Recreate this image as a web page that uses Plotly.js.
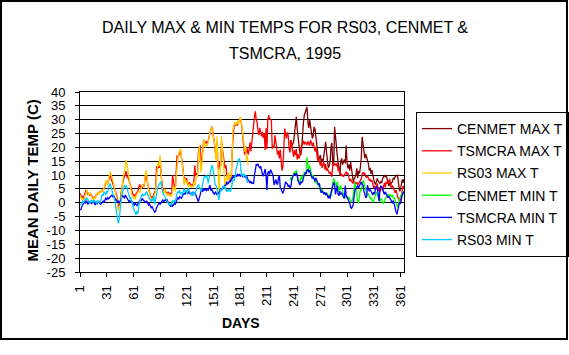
<!DOCTYPE html>
<html>
<head>
<meta charset="utf-8">
<script src="https://cdn.plot.ly/plotly-3.0.1.min.js"></script>
<style>
  html, body { margin: 0; padding: 0; background: #fff; }
  #wrap { position: relative; width: 569px; height: 355px; overflow: hidden; }
  #chart { width: 569px; height: 355px; }
  #frame { position: absolute; left: 0; top: 0; width: 564px; height: 336px; border: 2px solid #000; pointer-events: none; }
</style>
</head>
<body>
<div id="wrap"><div id="chart"></div><div id="frame"></div></div>
<script>
// ---- Data ----
const seriesNames = ["CENMET MAX T", "TSMCRA MAX T", "RS03 MAX T", "CENMET MIN T", "TSMCRA MIN T", "RS03 MIN T"];
const xTickVals = [1, 31, 61, 91, 121, 151, 181, 211, 241, 271, 301, 331, 361];
const yTickVals = [-25, -20, -15, -10, -5, 0, 5, 10, 15, 20, 25, 30, 35, 40];
const yTickText = ["-25", "-20", "-15", "-10", "-5", "0", "5", "10", "15", "20", "25", "30", "35", "40"];

const rs03Start = 1;      // RS03 record: days 1-190
const tsmcraStart = 1;    // TSMCRA record: days 1-365
const cenmetStart = 237;  // CENMET record: days 237-365

const rs03Max = [
  2.8, 2.0, 1.2, 1.5, 1.0, 2.0, 3.1, 3.8, 4.6, 3.5,
  2.8, 3.6, 3.0, 2.2, 1.5, 1.0, 1.8, 1.4, 2.6, 3.2,
  3.9, 3.0, 3.6, 4.2, 4.0, 4.8, 4.3, 5.2, 6.5, 8.2,
  7.0, 6.2, 8.5, 9.8, 11.2, 10.0, 9.0, 8.3, 6.4, 5.0,
  4.0, 2.6, 0.5, -3.2, -1.5, -1.8, 2.5, 6.4, 8.0, 10.0,
  12.0, 13.8, 15.4, 13.5, 11.0, 9.4, 6.5, 5.0, 3.2, 2.6,
  1.6, 2.2, 1.2, 2.8, 3.0, 3.6, 4.2, 3.8, 5.0, 5.4,
  6.3, 5.8, 6.2, 8.5, 11.8, 10.2, 6.5, 4.5, 3.6, 1.6,
  1.0, 1.5, 1.2, 2.6, 3.0, 4.5, 11.5, 13.0, 14.8, 13.2,
  17.2, 11.0, 6.0, 4.2, 3.0, 5.0, 3.8, 3.2, 2.6, 3.4,
  2.8, 2.2, 3.0, 2.4, 4.5, 6.0, 5.2, 4.0, 9.0, 14.5,
  16.0, 17.8, 19.0, 19.6, 16.0, 14.0, 11.0, 6.5, 8.8, 7.0,
  8.2, 6.4, 6.0, 6.8, 5.6, 6.2, 5.5, 6.0, 7.5, 6.2,
  9.0, 10.0, 9.4, 15.0, 20.8, 15.0, 11.0, 14.5, 19.0, 23.0,
  21.5, 20.0, 21.0, 20.6, 22.0, 24.0, 25.6, 26.6, 27.4, 26.0,
  23.0, 22.0, 19.0, 15.0, 24.0, 11.0, 2.8, 9.5, 14.0, 24.0,
  20.5, 15.0, 10.0, 5.0, 8.5, 10.0, 8.0, 11.0, 9.0, 8.0,
  10.5, 20.0, 26.8, 28.0, 29.2, 28.2, 29.0, 28.4, 29.8, 29.0,
  31.0, 30.0, 25.5, 24.4, 22.0, 18.5, 20.5, 15.0, 17.0, 13.5
];

const rs03Min = [
  -0.8, -0.5, 0.2, 0.6, 0.0, 0.8, 1.5, 1.2, 1.8, 1.0,
  0.2, -0.2, 0.6, 0.9, 0.0, 0.4, 1.0, 0.2, 0.5, -0.3,
  0.8, 0.3, 0.0, 0.6, 1.8, 3.0, 2.6, 4.0, 3.5, 2.8,
  4.2, 3.6, 5.6, 6.4, 7.0, 5.5, 4.0, 3.0, 2.2, 1.0,
  -0.8, -2.6, -4.5, -7.4, -6.0, -2.0, 0.0, 2.8, 4.0, 5.2,
  6.4, 5.8, 6.2, 5.0, 4.0, 3.0, 1.5, 2.0, 0.5, -0.6,
  -1.5, -2.8, -3.5, -4.4, -3.0, -4.0, -1.0, 0.4, 1.2, 2.4,
  3.2, 2.6, 3.0, 2.8, 3.6, 4.0, 3.2, 2.0, 1.5, 1.0,
  0.4, 1.5, 0.6, 2.6, -0.6, 1.2, 3.8, 5.0, 6.2, 6.6,
  7.2, 7.6, 5.0, 3.6, 2.8, 2.5, 1.6, 0.8, 0.4, 0.0,
  -0.8, -0.4, -1.0, -0.2, 0.8, 0.0, 1.0, 0.2, 2.6, 3.4,
  4.0, 3.6, 4.5, 3.0, 3.8, 2.8, 4.0, 5.2, 3.8, 4.5,
  3.2, 4.8, 5.0, 3.6, 3.4, 2.8, 3.6, 2.6, 3.8, 3.0,
  4.2, 5.0, 6.0, 6.4, 5.8, 5.0, 4.2, 5.5, 7.5, 8.8,
  9.5, 9.0, 10.0, 9.2, 7.0, 8.5, 10.5, 12.0, 13.6, 13.0,
  10.0, 9.0, 6.5, 6.2, 4.0, 2.8, 1.0, 3.0, 5.0, 4.2,
  5.5, 6.2, 5.2, 6.0, 4.5, 4.0, 5.0, 4.2, 4.8, 4.0,
  5.2, 7.5, 8.6, 8.0, 9.0, 11.5, 13.0, 14.2, 15.5, 16.0,
  14.8, 11.0, 9.6, 10.5, 9.5, 10.2, 9.8, 8.6, 7.4, 7.6
];

const tsmcraMax = [
  3.4, 2.6, 1.8, 2.2, 1.4, 3.0, 4.2, 4.6, 3.8, 3.0,
  3.4, 2.6, 3.2, 2.4, 1.8, 1.4, 2.0, 1.6, 2.8, 3.0,
  3.6, 3.4, 3.8, 4.0, 4.4, 4.2, 4.6, 5.0, 6.0, 7.6,
  7.4, 6.8, 8.0, 9.0, 10.4, 8.6, 7.6, 7.0, 6.0, 5.4,
  4.4, 3.0, 1.2, -1.8, -0.6, -0.8, 3.2, 6.0, 7.2, 8.6,
  9.4, 10.6, 11.4, 9.0, 9.4, 8.2, 7.0, 6.0, 4.0, 3.6,
  2.4, 3.0, 2.0, 3.4, 3.6, 4.2, 5.4, 6.6, 5.6, 6.0,
  5.2, 6.6, 5.8, 8.0, 10.6, 9.0, 6.0, 5.0, 4.0, 2.4,
  1.6, 2.2, 1.8, 3.2, 3.8, 5.6, 13.2, 12.0, 13.6, 12.6,
  16.0, 10.4, 6.8, 5.0, 3.6, 5.4, 4.2, 3.8, 3.0, 4.0,
  3.4, 2.8, 3.6, 3.0, 10.0, 6.6, 5.8, 4.8, 14.0, 16.8,
  16.6, 17.0, 18.6, 19.0, 16.4, 14.2, 11.6, 7.4, 9.2, 7.6,
  8.8, 7.0, 6.6, 7.4, 6.2, 6.8, 6.2, 6.8, 8.0, 13.4,
  9.6, 10.4, 10.0, 18.0, 20.4, 20.8, 14.0, 15.6, 19.4, 22.6,
  22.2, 21.4, 22.0, 21.6, 22.4, 23.4, 25.2, 26.4, 27.6, 26.4,
  22.6, 21.4, 18.4, 16.0, 22.0, 13.0, 12.0, 14.8, 13.2, 22.0,
  19.4, 15.6, 14.8, 12.4, 13.6, 9.6, 8.8, 9.4, 8.8, 7.6,
  8.4, 19.0, 26.0, 27.6, 28.8, 28.0, 28.4, 28.0, 29.4, 30.2,
  30.6, 29.4, 24.8, 23.6, 20.2, 17.4, 19.4, 18.0, 19.6, 17.4,
  19.0, 21.8, 18.6, 22.6, 25.6, 28.0, 31.0, 33.0, 30.0, 29.0,
  26.0, 24.4, 27.0, 25.0, 24.0, 25.6, 23.4, 25.0, 19.0, 27.0,
  19.4, 30.0, 31.6, 30.4, 30.2, 29.6, 19.6, 20.6, 19.8, 24.4,
  22.0, 20.4, 17.4, 18.8, 16.0, 19.2, 15.6, 11.6, 13.0, 24.0,
  26.8, 24.8, 23.2, 25.4, 24.0, 19.4, 18.2, 22.6, 21.0, 18.4,
  16.6, 19.0, 17.2, 19.4, 15.6, 17.6, 16.0, 17.0, 19.2, 20.6,
  21.4, 22.4, 21.0, 22.0, 21.6, 20.8, 22.2, 21.2, 20.6, 22.6,
  21.0, 20.4, 21.8, 19.6, 18.6, 20.2, 17.0, 15.2, 16.4, 14.6,
  13.4, 14.8, 12.6, 13.8, 15.0, 12.0, 14.0, 11.6, 12.4, 11.4,
  10.6, 11.2, 10.2, 9.4, 13.6, 14.2, 13.8, 14.0, 13.2, 14.4,
  11.6, 12.2, 10.4, 10.8, 9.6, 10.0, 9.4, 9.8, 10.6, 11.2,
  10.2, 10.8, 8.4, 7.8, 8.6, 7.6, 7.2, 7.6, 7.0, 7.4,
  6.8, 7.4, 6.4, 7.0, 7.4, 8.0, 8.6, 10.4, 11.0, 10.2,
  10.8, 9.6, 9.0, 9.8, 8.8, 8.0, 8.4, 7.6, 8.2, 6.2,
  5.4, 6.2, 4.6, 5.8, 7.0, 4.2, 5.6, 4.0, 5.0, 6.0,
  4.4, 6.4, 7.2, 5.6, 7.6, 6.8, 8.0, 7.4, 8.6, 6.0,
  5.4, 6.2, 5.0, 4.4, 3.6, 4.6, 2.8, 2.0, 1.6, 0.4,
  0.8, 2.6, 5.2, 6.0, 5.4
];

const tsmcraMin = [
  -2.6, -2.4, -1.4, -0.6, 0.2, 0.4, -0.2, 0.8, 0.2, -0.6,
  0.5, 0.0, 0.6, -0.4, 0.2, 0.8, 0.0, -0.8, 0.3, -0.5,
  0.0, 0.6, -0.2, -0.6, -0.4, 0.2, 0.6, 0.0, 1.2, 1.8,
  1.0, 2.0, 1.4, 1.6, 2.2, 2.4, 2.8, 2.0, 2.6, 1.8,
  1.0, 1.0, 0.2, 0.6, 0.0, 0.4, 1.4, 1.8, 2.6, 2.2,
  1.6, 2.8, 2.0, 1.6, 1.0, 0.4, 0.8, 0.2, 0.6, 0.0,
  -0.4, -0.8, -0.2, -0.6, -1.0, -0.4, 0.0, 0.6, 1.2, 0.8,
  1.6, 1.0, 0.8, 0.6, 0.2, 0.6, -0.2, -0.8, -0.4, -1.0,
  -1.8, -1.4, -2.4, -2.8, -3.4, -3.0, -1.8, -1.0, -0.4, 0.0,
  -0.6, 0.2, 0.6, 1.0, 0.4, 0.8, 1.2, 0.6, 1.0, 0.2,
  -0.4, -1.0, -1.4, -0.6, -1.2, -0.8, -0.2, -0.6, 0.6, 1.2,
  1.8, 1.4, 2.2, 2.0, 1.6, 2.4, 2.8, 3.4, 3.0, 4.0,
  3.6, 3.2, 4.2, 3.8, 3.0, 3.6, 2.6, 4.0, 3.2, 3.8,
  3.0, 2.2, 0.8, 0.4, 1.6, 3.6, 4.2, 4.8, 4.0, 5.2,
  4.6, 4.8, 4.4, 5.0, 4.6, 5.4, 6.4, 4.4, 5.0, 4.0,
  3.6, 3.0, 4.0, 3.2, 2.8, 3.6, 3.2, 4.4, 5.2, 4.6,
  5.0, 6.0, 5.6, 6.4, 6.4, 7.6, 6.8, 7.2, 8.0, 7.4,
  9.0, 8.6, 9.8, 9.0, 9.6, 10.0, 9.4, 10.2, 9.8, 10.4,
  9.6, 10.0, 9.8, 9.4, 10.0, 9.2, 9.0, 9.8, 8.8, 8.2,
  7.8, 7.2, 7.8, 7.0, 7.2, 7.0, 10.0, 12.4, 13.8, 13.6,
  14.0, 13.0, 12.6, 13.2, 11.0, 10.2, 9.6, 10.6, 12.2, 9.8,
  4.5, 10.8, 11.4, 10.2, 12.0, 11.4, 10.0, 9.6, 6.4, 7.6,
  8.4, 7.0, 6.6, 9.0, 10.0, 5.2, 5.0, 4.0, 3.4, 4.4,
  6.6, 7.6, 7.0, 6.8, 5.8, 6.2, 5.4, 6.0, 8.6, 9.6,
  10.0, 10.4, 9.8, 10.6, 10.2, 8.0, 7.0, 6.4, 7.6, 7.2,
  7.6, 9.4, 10.2, 10.8, 10.4, 11.6, 12.2, 11.0, 11.8, 10.4,
  9.6, 8.8, 9.4, 8.6, 7.8, 9.0, 7.6, 7.2, 6.4, 7.0,
  4.6, 3.6, 4.2, 3.4, 3.2, 3.8, 2.8, 3.4, 2.4, 1.6,
  2.6, 1.5, 3.6, 4.6, 6.4, 7.4, 6.6, 3.0, 4.6, 6.2,
  3.0, 2.6, 4.2, 3.0, 3.6, 2.4, 2.0, 1.6, 6.2, 2.6,
  1.8, 1.0, 0.4, 0.0, -1.6, -2.0, -1.4, -0.8, 2.6, 4.8,
  5.0, 5.6, 6.2, 5.4, 6.4, 7.2, 7.6, 6.6, 6.4, 4.2,
  3.0, 1.8, 2.2, 6.4, 5.0, 4.2, 4.8, 4.0, 3.4, 2.8,
  3.8, 3.2, 5.2, 6.0, 5.4, 1.4, 0.6, 5.0, 6.2, 5.6,
  5.2, 3.8, 3.0, 4.0, 3.2, 2.6, 1.8, 2.4, 1.6, 1.2,
  0.4, -0.2, 0.8, -0.8, -1.8, -3.2, -4.2, -2.8, -1.0, 0.2,
  -0.4, 1.8, 2.8, 3.6, 4.0
];

const cenmetMax = [
  21.0, 22.6, 20.4, 21.4,
  22.0, 25.0, 28.6, 31.0, 26.8, 24.6, 20.8, 18.0, 17.2, 19.5,
  26.8, 29.0, 31.6, 32.8, 34.0, 34.6, 29.2, 27.0, 30.0, 27.4,
  25.0, 23.2, 24.2, 27.4, 26.6, 24.0, 20.8, 17.0, 15.4, 16.2,
  17.2, 14.6, 15.8, 14.8, 17.0, 19.0, 22.0, 18.0, 14.6, 12.6,
  13.4, 15.0, 20.4, 21.6, 14.0, 13.4, 27.4, 23.0, 19.6, 17.2,
  14.8, 12.6, 10.0, 15.0, 16.0, 13.8, 14.8, 15.6, 14.2, 20.8,
  14.8, 12.4, 13.8, 11.6, 14.8, 12.0, 8.8, 7.6, 8.6, 9.4,
  10.0, 12.4, 9.0, 11.4, 10.6, 12.8, 16.0, 23.8, 20.8, 18.2,
  16.0, 17.6, 16.4, 14.8, 14.2, 11.6, 12.6, 10.4, 11.8, 10.0,
  8.0, 7.2, 6.6, 8.4, 8.8, 7.8, 7.4, 7.0, 7.6, 7.2,
  8.8, 9.4, 10.0, 9.2, 10.0, 8.6, 7.0, 6.0, 7.4, 6.4,
  7.2, 7.6, 9.0, 8.6, 9.4, 9.6, 10.0, 9.2, 5.0, 4.2,
  4.6, 6.8, 8.4, 7.2, 8.6
];

const cenmetMin = [
  8.0, 9.2, 8.4, 10.0,
  10.6, 11.2, 10.4, 11.8, 8.4, 7.6, 8.0, 7.2, 8.8, 9.8,
  8.2, 10.4, 11.0, 10.0, 10.8, 16.4, 13.0, 12.0, 13.4, 11.6,
  9.6, 9.0, 10.0, 8.0, 7.2, 7.8, 7.0, 6.4, 6.0, 6.2,
  5.0, 4.2, 4.8, 4.0, 3.8, 3.6, 3.2, 3.6, 2.8, 2.2,
  3.0, 2.0, 2.6, 4.0, 7.0, 8.8, 8.0, 6.4, 6.0, 7.6,
  4.6, 4.0, 5.6, 6.2, 5.2, 3.8, 3.0, 2.8, 2.6, 1.8,
  2.2, 1.6, 2.0, 1.4, 1.0, 0.4, 0.8, 2.8, 6.4, 7.4,
  5.2, 2.0, 0.2, 0.0, 4.0, 5.0, 4.4, 6.6, 8.0, 7.2,
  5.6, 4.0, 3.6, 2.8, 3.2, 2.4, 1.6, 2.0, 0.6, 0.2,
  0.8, 2.4, 3.2, 3.8, 3.0, 2.4, 1.0, 0.4, 1.6, 1.2,
  0.0, -0.2, 0.6, 1.4, 2.0, 2.8, 2.6, 3.0, 2.4, 2.8,
  2.2, 2.8, 1.6, 2.0, 1.0, -0.4, -1.2, -1.4, 0.0, 1.2,
  2.6, 2.8, 3.4, 3.0, 4.0
];

// ---- checks ----
const expect = [[rs03Max,190],[rs03Min,190],[tsmcraMax,365],[tsmcraMin,365],[cenmetMax,129],[cenmetMin,129]];
expect.forEach(function(p, i){ if (p[0].length !== p[1]) throw new Error("series " + i + " has length " + p[0].length + " expected " + p[1]); });

function daysFrom(start, n) { const d = []; for (let i = 0; i < n; i++) d.push(start + i); return d; }

const FONT = "Liberation Sans, Arial, sans-serif";
const colors = ["#800000", "#FF0000", "#FFCC00", "#00FF00", "#0000FF", "#00CCFF"];
const ys = [cenmetMax, tsmcraMax, rs03Max, cenmetMin, tsmcraMin, rs03Min];
const starts = [cenmetStart, tsmcraStart, rs03Start, cenmetStart, tsmcraStart, rs03Start];

const traces = ys.map(function(y, i) {
  return {
    type: "scatter", mode: "lines",
    name: seriesNames[i],
    legendgroup: "g" + i,
    x: daysFrom(starts[i], y.length),
    y: y,
    line: { color: colors[i], width: 1.3 },
    hoverinfo: "skip"
  };
});

// paper coordinate helpers (plot area is 80..404 px horizontally, 92..272 px vertically)
const L = 80, R = 165, T = 92, B = 83, W = 569, H = 355;
const pw = W - L - R, ph = H - T - B;
function px(x) { return (x - L) / pw; }
function py(y) { return (H - B - y) / ph; }

const layout = {
  width: W, height: H,
  margin: { l: L, r: R, t: T, b: B, pad: 0, autoexpand: false },
  paper_bgcolor: "#ffffff", plot_bgcolor: "#ffffff",
  font: { family: FONT, color: "#000000", size: 13 },
  showlegend: true,
  legend: {
    x: px(416), xanchor: "left", y: py(112), yanchor: "top",
    bordercolor: "#000000", borderwidth: 1, bgcolor: "#ffffff",
    font: { family: FONT, size: 14, color: "#000000" },
    traceorder: "grouped", tracegroupgap: 1
  },
  xaxis: {
    range: [1, 365], tickmode: "array", tickvals: xTickVals,
    ticks: "outside", ticklen: 4, tickwidth: 1, tickcolor: "#000000",
    tickangle: -90, tickfont: { family: FONT, size: 13, color: "#000000" },
    ticklabelstandoff: 3, automargin: false,
    showline: true, linecolor: "#000000", linewidth: 1, mirror: true,
    showgrid: false, zeroline: false, fixedrange: true
  },
  yaxis: {
    range: [-25, 40], tickmode: "array", tickvals: yTickVals, ticktext: yTickText,
    ticks: "outside", ticklen: 4, tickwidth: 1, tickcolor: "#000000",
    tickfont: { family: FONT, size: 13, color: "#000000" },
    ticklabelstandoff: 7, automargin: false,
    showline: true, linecolor: "#000000", linewidth: 1, mirror: true,
    showgrid: true, gridcolor: "#000000", gridwidth: 1,
    zeroline: false, fixedrange: true
  },
  annotations: [
    { text: "DAILY MAX &amp; MIN TEMPS FOR RS03, CENMET &amp;", xref: "paper", yref: "paper",
      x: px(285), y: py(28), xanchor: "center", yanchor: "middle", showarrow: false,
      font: { family: FONT, size: 16, color: "#000000" } },
    { text: "TSMCRA, 1995", xref: "paper", yref: "paper",
      x: px(284.5), y: py(53), xanchor: "center", yanchor: "middle", showarrow: false,
      font: { family: FONT, size: 16, color: "#000000" } },
    { text: "<b>DAYS</b>", xref: "paper", yref: "paper",
      x: px(241), y: py(323), xanchor: "center", yanchor: "middle", showarrow: false,
      font: { family: FONT, size: 14, color: "#000000" } },
    { text: "<b>MEAN DAILY TEMP (C)</b>", xref: "paper", yref: "paper", textangle: -90,
      x: px(31.5), y: py(181), xanchor: "center", yanchor: "middle", showarrow: false,
      font: { family: FONT, size: 15, color: "#000000" } }
  ]
};

Plotly.newPlot("chart", traces, layout, { staticPlot: true, displayModeBar: false });
</script>
</body>
</html>
